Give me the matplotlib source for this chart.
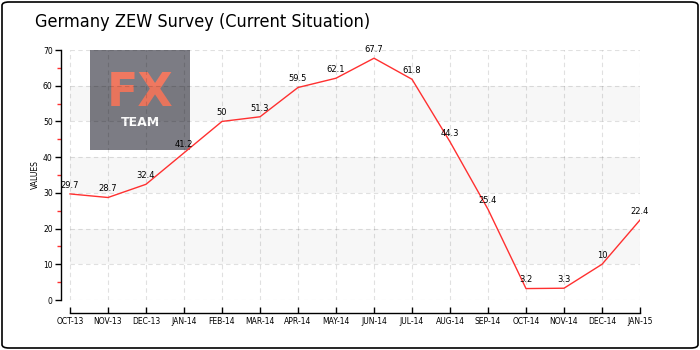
import matplotlib
matplotlib.use("Agg")
import matplotlib.pyplot as plt
from matplotlib.patches import FancyBboxPatch, Rectangle
import numpy as np

months = ["OCT-13", "NOV-13", "DEC-13", "JAN-14", "FEB-14", "MAR-14", "APR-14", "MAY-14",
          "JUN-14", "JUL-14", "AUG-14", "SEP-14", "OCT-14", "NOV-14", "DEC-14", "JAN-15"]
values = [29.7, 28.7, 32.4, 41.2, 50, 51.3, 59.5, 62.1, 67.7, 61.8, 44.3, 25.4, 3.2, 3.3, 10, 22.4]
labels = ["29.7", "28.7", "32.4", "41.2", "50", "51.3", "59.5", "62.1", "67.7", "61.8", "44.3",
          "25.4", "3.2", "3.3", "10", "22.4"]
y_ticks = [0, 10, 20, 30, 40, 50, 60, 70]

W, H = 700, 350
fig = plt.figure(figsize=(7, 3.5), dpi=100)
fig.patch.set_facecolor("white")

# outer border
fig.patches.append(FancyBboxPatch((2 / W, 2 / H), 1 - 4 / W, 1 - 4 / H,
                                  boxstyle="round,pad=0,rounding_size=0.01",
                                  transform=fig.transFigure, fill=False,
                                  edgecolor="black", linewidth=1.2))

# logo (drawn beneath the chart)
ax_logo = fig.add_axes([90 / W, 1 - 150 / H, 100 / W, 100 / H], zorder=0)
ax_logo.set_xlim(0, 1)
ax_logo.set_ylim(0, 1)
ax_logo.axis("off")
ax_logo.add_patch(Rectangle((0, 0), 1, 1, color="#7c7c84"))
ax_logo.text(0.5, 0.56, "FX", color="#f07860", fontsize=33, ha="center", va="center",
             family="DejaVu Sans", fontweight="semibold")
ax_logo.text(0.5, 0.27, "TEAM", color="white", fontsize=9, ha="center", va="center",
             fontweight="bold", family="DejaVu Sans")

left, right, bottom, top = 61, 640, 300, 50
ax = fig.add_axes([left / W, 1 - bottom / H, (right - left) / W, (bottom - top) / H], zorder=1)
x = np.arange(len(months))
ax.set_xlim(-9 / 38, len(months) - 1)
ax.set_ylim(0, 70)
ax.set_facecolor("none")

# bands
for lo in [10, 30, 50]:
    ax.fill_between([0, len(months) - 1], lo, lo + 10, color="black", alpha=0.03,
                    zorder=0, linewidth=0)
# grid
for yv in y_ticks:
    ax.plot([0, len(months) - 1], [yv, yv], color="black", linestyle=(0, (4, 3)),
            linewidth=0.8, zorder=1, alpha=0.12)
for xv in x:
    ax.plot([xv, xv], [0, 70], color="black", linestyle=(0, (4, 3)), linewidth=0.8,
            zorder=1, alpha=0.12)

ax.plot(x, values, color="#ff3030", linewidth=1.0, zorder=3)
for xi, v, lab in zip(x, values, labels):
    ax.annotate(lab, (xi, v), xytext=(0, 3), textcoords="offset points", ha="center",
                va="bottom", fontsize=6, color="black", zorder=4)

ax.spines["top"].set_visible(False)
ax.spines["right"].set_visible(False)
ax.spines["bottom"].set_position(("outward", 9))
ax.spines["bottom"].set_bounds(0, len(months) - 1)
ax.spines["left"].set_linewidth(1.0)
ax.spines["bottom"].set_linewidth(1.0)

ax.set_xticks(x)
ax.set_xticklabels(months, fontsize=5.5)
ax.tick_params(axis="x", direction="in", length=4, width=1, pad=3)
ax.set_yticks(y_ticks)
ax.set_yticklabels([str(v) for v in y_ticks], fontsize=5.5)
ax.tick_params(axis="y", direction="out", length=4, width=1, pad=2)
ax.set_yticks(np.arange(5, 70, 10), minor=True)
ax.tick_params(axis="y", which="minor", direction="out", length=3, width=1, color="#ff3030")
ax.set_ylabel("VALUES", fontsize=5.5, labelpad=2)

fig.text(35 / W, 1 - 22 / H, "Germany ZEW Survey (Current Situation)", fontsize=13,
         ha="left", va="center", family="DejaVu Sans", fontstretch="condensed")

fig.savefig("out.png", dpi=100)
